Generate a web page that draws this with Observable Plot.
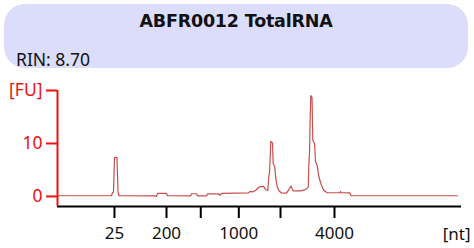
<!DOCTYPE html>
<html>
<head>
<meta charset="utf-8">
<script src="https://cdn.jsdelivr.net/npm/d3@7"></script>
<script src="https://cdn.jsdelivr.net/npm/@observablehq/plot@0.6"></script>
<style>
  html, body { margin: 0; padding: 0; background: #fff; }
  #wrap { position: relative; width: 474px; height: 248px; overflow: hidden; font-family: "Noto Sans", sans-serif; }
  #box { position: absolute; left: 4px; top: 4px; width: 464px; height: 64px; border-radius: 21px; background: #dcdcfb; }
  #title { position: absolute; left: 0; right: 0; top: 7px; text-align: center; font-family: "DejaVu Sans", sans-serif; font-weight: bold; font-size: 17.5px; line-height: 1.164; color: #111; letter-spacing: -0.2px; }
  #rin { position: absolute; left: 12px; top: 43px; font-size: 17.5px; color: #111; }
  #chart { position: absolute; left: 0; top: 68px; }
</style>
</head>
<body>
<div id="wrap">
  <div id="box"><div id="title">ABFR0012 TotalRNA</div><div id="rin">RIN: 8.70</div></div>
  <div id="chart"></div>
</div>
<script>
// migration time (s) of the trace and fluorescence (FU)
const time = [19.12, 25.68, 25.81, 25.93, 26.05, 26.36, 26.49, 26.61, 31.13, 31.25, 31.38, 32.49, 32.61,
  35.46, 35.58, 36.20, 36.33, 37.44, 37.56, 38.93, 39.11, 39.30, 42.64, 42.82, 43.13, 43.50, 43.94,
  44.50, 44.74, 45.03, 45.15, 45.24, 45.40, 45.61, 45.69, 45.88, 46.02, 46.19, 46.39, 46.72, 47.34,
  47.65, 47.90, 48.17, 49.07, 49.57, 49.88, 50.03, 50.10, 50.19, 50.27, 50.35, 50.50, 50.60, 50.81,
  50.93, 51.14, 51.34, 51.63, 51.96, 52.38, 53.96, 54.02, 54.09, 55.20, 55.32, 68.50];
const fluorescence = [0.13, 0.13, 0.75, 0.81, 7.36, 7.36, 0.81, 0.13, 0.09, 0.00, 0.57, 0.57, 0.13,
  0.09, 0.51, 0.51, 0.09, 0.09, 0.47, 0.51, 0.19, 0.57, 0.66, 0.94, 0.85, 1.13, 1.79,
  1.89, 1.32, 1.13, 3.77, 4.53, 10.38, 10.09, 6.23, 5.66, 3.40, 1.89, 1.13, 0.66, 0.62,
  1.32, 1.98, 1.04, 1.04, 1.23, 1.51, 1.75, 5.85, 8.30, 14.72, 19.06, 18.68, 10.57, 10.00,
  6.60, 5.85, 3.77, 2.26, 1.13, 0.70, 0.70, 0.94, 0.70, 0.66, 0.13, 0.13];
// ladder: migration time of each size marker and its label
const ladderTime = [26.05, 32.49, 36.73, 41.44, 46.60, 53.28];
const ladderLabel = ["25", "200", "", "1000", "", "4000"];
const yTicks = [0, 10, 20];
const yTickLabel = ["0", "10", "[FU]"];
const timeDomain = [19, 69];
const fuDomain = [-1.9, 20];

const trace = time.map((t, i) => ({t, fu: fluorescence[i]}));
const red = "#ee1111";

const chart = Plot.plot({
  width: 474,
  height: 180,
  marginLeft: 57,
  marginRight: 13,
  marginTop: 22,
  marginBottom: 42,
  style: {fontFamily: "Noto Sans", fontSize: "17px", background: "white", overflow: "visible"},
  x: {domain: timeDomain},
  y: {domain: fuDomain},
  marks: [
    Plot.line(trace, {x: "t", y: "fu", stroke: "#c84e4e", strokeWidth: 1.2}),
    Plot.ruleY([fuDomain[0]], {x1: timeDomain[0], x2: timeDomain[1], stroke: "#000", strokeWidth: 2}),
    Plot.ruleX([timeDomain[0]], {y1: fuDomain[0], y2: fuDomain[1], stroke: red, strokeWidth: 2}),
    Plot.axisX({ticks: ladderTime, tickFormat: (d, i) => ladderLabel[i], tickSize: 12, tickPadding: 8,
      stroke: "#000", strokeWidth: 2, fill: "#111", fontSize: 17, label: null}),
    Plot.axisY({ticks: yTicks, tickFormat: (d, i) => yTickLabel[i], tickSize: 11, tickPadding: 4,
      stroke: red, strokeWidth: 2, fill: red, fontSize: 17.5, label: null}),
    Plot.text(["[nt]"], {frameAnchor: "bottom-right", textAnchor: "end", lineAnchor: "bottom", dx: 9, dy: 33, fill: "#111", fontSize: 17})
  ]
});
document.getElementById("chart").appendChild(chart);
</script>
</body>
</html>
